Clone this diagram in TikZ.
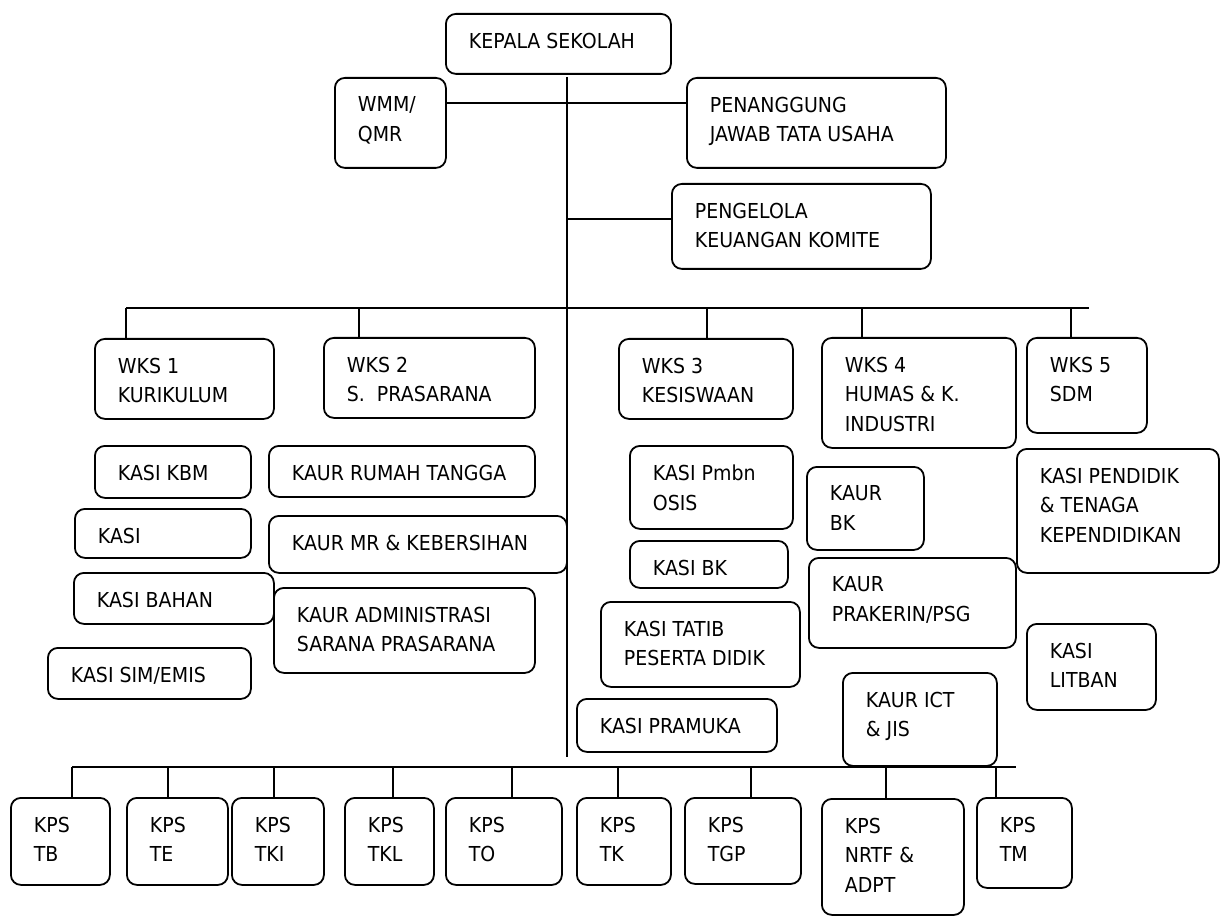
\documentclass[tikz,border=0pt]{standalone}
\usepackage{fontspec}
\usepackage{tikz}
\newfontfamily\orgfam{DejaVu Sans}[FakeStretch=0.92]
\newcommand\fs{\orgfam\fontsize{20.6pt}{29.5pt}\selectfont}

\begin{document}
\begin{tikzpicture}[x=1pt,y=-1pt,line width=1.8pt,
                    size/.style 2 args={minimum width=#1,minimum height=#2}]

  \tikzstyle{unit}=[draw,rounded corners=10pt,anchor=north west,inner sep=0pt]
  \tikzstyle{lbl}=[anchor=north west,align=left,inner xsep=23pt,inner ysep=19pt,
                   font=\fs]

  \useasboundingbox (0,0) rectangle (1224,917);

  % top
  \node[unit,size={225}{60},label={[lbl]north west:KEPALA SEKOLAH}]                  (KS)   at (445,13)  {};
  \node[unit,size={111}{90},label={[lbl]north west:WMM/\\QMR}]                       (WM)   at (334,77)  {};
  \node[unit,size={259}{90},label={[lbl]north west:PENANGGUNG\\JAWAB TATA USAHA}]    (PJ)   at (686,77)  {};
  \node[unit,size={259}{85},label={[lbl]north west:PENGELOLA\\KEUANGAN KOMITE}]      (PK)   at (671,183) {};

  % wakil kepala sekolah
  \node[unit,size={179}{80},label={[lbl]north west:WKS 1\\KURIKULUM}]                (W1)   at (94,338)  {};
  \node[unit,size={211}{80},label={[lbl]north west:WKS 2\\S.\ \ PRASARANA}]          (W2)   at (323,337) {};
  \node[unit,size={174}{80},label={[lbl]north west:WKS 3\\KESISWAAN}]                (W3)   at (618,338) {};
  \node[unit,size={194}{110},label={[lbl]north west:WKS 4\\HUMAS \& K.\\INDUSTRI}]   (W4)   at (821,337) {};
  \node[unit,size={120}{95},label={[lbl]north west:WKS 5\\SDM}]                      (W5)   at (1026,337) {};

  % kasi / kaur
  \node[unit,size={156}{52},label={[lbl]north west:KASI KBM}]                        (KBM)  at (94,445)  {};
  \node[unit,size={176}{49},label={[lbl]north west:KASI}]                            (KSI)  at (74,508)  {};
  \node[unit,size={200}{51},label={[lbl]north west:KASI BAHAN}]                      (KBH)  at (73,572)  {};
  \node[unit,size={203}{51},label={[lbl]north west:KASI SIM/EMIS}]                   (KSIM) at (47,647)  {};
  \node[unit,size={266}{51},label={[lbl]north west:KAUR RUMAH TANGGA}]               (KRT)  at (268,445) {};
  \node[unit,size={298}{57},label={[lbl]north west:KAUR MR \& KEBERSIHAN}]           (KMR)  at (268,515) {};
  \node[unit,size={261}{85},label={[lbl]north west:KAUR ADMINISTRASI\\SARANA PRASARANA}] (KAD) at (273,587) {};
  \node[unit,size={163}{83},label={[lbl]north west:KASI Pmbn\\OSIS}]                 (KOS)  at (629,445) {};
  \node[unit,size={158}{47},label={[lbl]north west:KASI BK}]                         (KSBK) at (629,540) {};
  \node[unit,size={199}{85},label={[lbl]north west:KASI TATIB\\PESERTA DIDIK}]       (KTT)  at (600,601) {};
  \node[unit,size={200}{53},label={[lbl]north west:KASI PRAMUKA}]                    (KPM)  at (576,698) {};
  \node[unit,size={117}{83},label={[lbl]north west:KAUR\\BK}]                        (KBK)  at (806,466) {};
  \node[unit,size={207}{90},label={[lbl]north west:KAUR\\PRAKERIN/PSG}]              (KPR)  at (808,557) {};
  \node[unit,size={154}{93},label={[lbl]north west:KAUR ICT\\\& JIS}]                (KICT) at (842,672) {};
  \node[unit,size={202}{124},label={[lbl]north west:KASI PENDIDIK\\\& TENAGA\\KEPENDIDIKAN}] (KPD) at (1016,448) {};
  \node[unit,size={129}{86},label={[lbl]north west:KASI\\LITBAN}]                    (KLB)  at (1026,623) {};

  % ketua program studi
  \node[unit,size={99}{87},label={[lbl]north west:KPS\\TB}]                          (TB)   at (10,797)  {};
  \node[unit,size={101}{87},label={[lbl]north west:KPS\\TE}]                         (TE)   at (126,797) {};
  \node[unit,size={92}{87},label={[lbl]north west:KPS\\TKI}]                         (TKI)  at (231,797) {};
  \node[unit,size={89}{87},label={[lbl]north west:KPS\\TKL}]                         (TKL)  at (344,797) {};
  \node[unit,size={116}{87},label={[lbl]north west:KPS\\TO}]                         (TO)   at (445,797) {};
  \node[unit,size={94}{87},label={[lbl]north west:KPS\\TK}]                          (TK)   at (576,797) {};
  \node[unit,size={116}{86},label={[lbl]north west:KPS\\TGP}]                        (TGP)  at (684,797) {};
  \node[unit,size={142}{116},label={[lbl]north west:KPS\\NRTF \&\\ADPT}]             (NRTF) at (821,798) {};
  \node[unit,size={95}{90},label={[lbl]north west:KPS\\TM}]                          (TM)   at (976,797) {};

  % lines
  \coordinate (top) at (567,77);
  \coordinate (bot) at (567,757);
  \coordinate (h1)  at (567,103);
  \coordinate (h2)  at (567,219);
  \coordinate (bus1w) at (126,308);
  \coordinate (bus1e) at (1089,308);
  \coordinate (bus2w) at (72,767);
  \coordinate (bus2e) at (1016,767);

  \draw (top) -- (bot);
  \draw (WM.east |- h1) -- (PJ.west |- h1);
  \draw (h2) -- (PK.west |- h2);
  \draw (bus1w) -- (bus1e);
  \draw (bus2w) -- (bus2e);

  \foreach \n/\x in {W1/126,W2/359,W3/707,W4/862,W5/1071}
    \draw (\x,308) coordinate (d\n) -- (d\n |- \n.north);
  \foreach \n/\x in {TB/72,TE/168,TKI/274,TKL/393,TO/512,TK/618,TGP/751,NRTF/886,TM/996}
    \draw (\x,767) coordinate (d\n) -- (d\n |- \n.north);
\end{tikzpicture}
\end{document}
